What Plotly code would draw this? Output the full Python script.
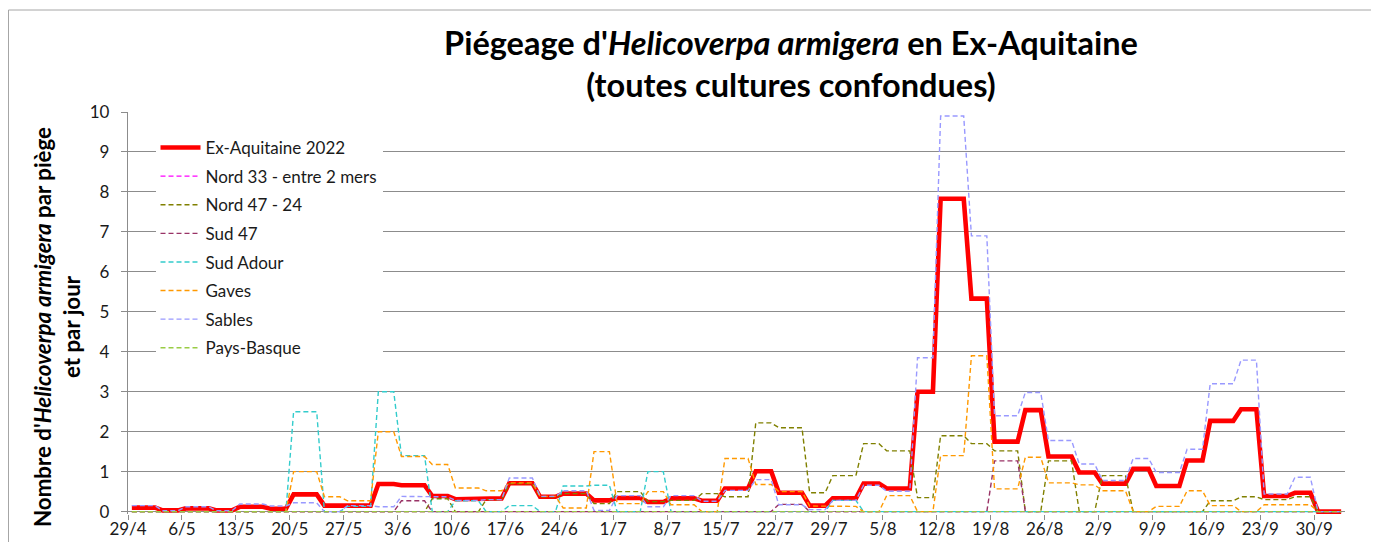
import numpy as np
import pandas as pd
import plotly.graph_objects as go

# Reading periods (start dates of each trap reading interval); last entry = end of data
period_starts = ["2022-04-29", "2022-05-03", "2022-05-06", "2022-05-10", "2022-05-13", "2022-05-17",
                 "2022-05-20", "2022-05-24", "2022-05-27", "2022-05-31", "2022-06-03", "2022-06-07",
                 "2022-06-10", "2022-06-14", "2022-06-17", "2022-06-21", "2022-06-24", "2022-06-28",
                 "2022-07-01", "2022-07-05", "2022-07-08", "2022-07-12", "2022-07-15", "2022-07-19",
                 "2022-07-22", "2022-07-26", "2022-07-29", "2022-08-02", "2022-08-05", "2022-08-09",
                 "2022-08-12", "2022-08-16", "2022-08-19", "2022-08-23", "2022-08-26", "2022-08-30",
                 "2022-09-02", "2022-09-06", "2022-09-09", "2022-09-13", "2022-09-16", "2022-09-20",
                 "2022-09-23", "2022-09-27", "2022-09-30"]
data_end = "2022-10-04"

# Mean catches per trap per day, one value per reading period
ex_aquitaine = [0.10, 0.03, 0.08, 0.03, 0.12, 0.07, 0.43, 0.15, 0.15, 0.69, 0.66, 0.39, 0.31, 0.33, 0.71,
                0.37, 0.45, 0.28, 0.34, 0.24, 0.33, 0.27, 0.58, 1.01, 0.47, 0.15, 0.33, 0.70, 0.58, 3.00,
                7.83, 5.33, 1.75, 2.54, 1.38, 0.98, 0.70, 1.07, 0.64, 1.28, 2.27, 2.56, 0.39, 0.47, 0.00]
nord33 = [0.0] * 45
nord47_24 = [0.00, 0.00, 0.00, 0.00, 0.00, 0.00, 0.00, 0.00, 0.00, 0.00, 0.00, 0.32, 0.00, 0.30, 0.70,
             0.37, 0.45, 0.20, 0.50, 0.25, 0.28, 0.45, 0.37, 2.22, 2.10, 0.47, 0.90, 1.70, 1.52, 0.35,
             1.90, 1.70, 1.52, 0.00, 1.27, 0.00, 0.90, 0.00, 0.00, 0.00, 0.27, 0.37, 0.30, 0.37, 0.00]
sud47 = [0.00, 0.00, 0.00, 0.00, 0.00, 0.00, 0.00, 0.00, 0.00, 0.00, 0.27, 0.00, 0.00, 0.00, 0.00,
         0.00, 0.00, 0.00, 0.00, 0.00, 0.00, 0.00, 0.00, 0.00, 0.18, 0.00, 0.00, 0.00, 0.00, 0.00,
         0.00, 0.00, 1.27, 0.00, 0.00, 0.00, 0.00, 0.00, 0.00, 0.00, 0.00, 0.00, 0.00, 0.00, 0.00]
sud_adour = [0.00, 0.00, 0.00, 0.00, 0.00, 0.00, 2.50, 0.00, 0.13, 3.00, 1.40, 0.00, 0.27, 0.00, 0.15,
             0.00, 0.64, 0.66, 0.00, 1.00, 0.00, 0.00, 0.00, 0.00, 0.00, 0.00, 0.28, 0.00, 0.00, 0.00,
             0.00, 0.00, 0.00, 0.00, 0.00, 0.00, 0.00, 0.00, 0.00, 0.00, 0.00, 0.00, 0.00, 0.00, 0.00]
gaves = [0.00, 0.00, 0.00, 0.00, 0.00, 0.00, 1.00, 0.37, 0.27, 2.00, 1.38, 1.18, 0.59, 0.52, 0.72,
         0.38, 0.09, 1.50, 0.20, 0.50, 0.17, 0.00, 1.33, 0.68, 0.50, 0.14, 0.13, 0.00, 0.40, 0.00,
         1.40, 3.90, 0.57, 1.36, 0.72, 0.67, 0.52, 0.00, 0.13, 0.52, 0.15, 0.00, 0.17, 0.17, 0.00]
sables = [0.15, 0.02, 0.12, 0.02, 0.19, 0.14, 0.22, 0.00, 0.15, 0.12, 0.38, 0.37, 0.28, 0.30, 0.84,
          0.38, 0.52, 0.03, 0.40, 0.12, 0.40, 0.26, 0.53, 0.80, 0.17, 0.05, 0.28, 0.66, 0.51, 3.85,
          9.90, 6.90, 2.40, 2.98, 1.78, 1.19, 0.78, 1.33, 0.98, 1.56, 3.20, 3.79, 0.44, 0.86, 0.00]
pays_basque = [0.0] * 45

series_names = ["Ex-Aquitaine 2022", "Nord 33 - entre 2 mers", "Nord 47 - 24", "Sud 47",
                "Sud Adour", "Gaves", "Sables", "Pays-Basque"]
series_values = [ex_aquitaine, nord33, nord47_24, sud47, sud_adour, gaves, sables, pays_basque]
series_colors = ["#FF0000", "#FF00FF", "#808000", "#993366", "#33CCCC", "#FF9900", "#9999FF", "#99CC44"]

# daily axis: each day's value is the reading of its period; points sit mid-day
bounds = pd.to_datetime(period_starts + [data_end])
lengths = np.diff(bounds.values).astype("timedelta64[D]").astype(int)
days = pd.date_range(period_starts[0] + " 12:00", periods=int(lengths.sum()), freq="D")

fig = go.Figure()
for i, (name, vals, col) in enumerate(zip(series_names, series_values, series_colors)):
    y = np.repeat(np.array(vals, dtype=float), lengths)
    if i == 0:
        line = dict(color=col, width=4.6)
    else:
        line = dict(color=col, width=1.4, dash="5px,3px")
    fig.add_trace(go.Scatter(x=days, y=y, mode="lines", name=name, line=line,
                             legendgroup=f"g{i}", hoverinfo="x+y+name"))

# figure geometry (page is offset by an 8px body margin)
W, H = 1371, 534
L, R, T, B = 120, 34, 104, 28
PW, PH = W - L - R, H - T - B


def px(page_x):
    return (page_x - 8 - L) / PW


def py(page_y):
    return (H - B - (page_y - 8)) / PH


grid = "#8C8C8C"
fig.update_layout(
    width=W, height=H,
    margin=dict(l=L, r=R, t=T, b=B, autoexpand=False),
    paper_bgcolor="white", plot_bgcolor="white",
    font=dict(family="Lato, 'Open Sans', sans-serif", color="#1a1a1a"),
    title=dict(
        text="<b>Piégeage d'<i>Helicoverpa armigera</i> en Ex-Aquitaine<br>(toutes cultures confondues)</b>",
        x=783 / W, xanchor="center", xref="container",
        y=1 - 47 / H, yanchor="top", yref="container",
        font=dict(size=32.5, color="#000000"),
    ),
    xaxis=dict(
        type="date", automargin=False,
        range=["2022-04-29", data_end],
        tick0="2022-04-29", dtick=7 * 86400000,
        tickformat="%-d/%-m",
        ticks="outside", ticklen=5, tickcolor=grid, tickwidth=1.2,
        ticklabelstandoff=-5,
        showgrid=False, showline=False, zeroline=False,
        tickfont=dict(size=17, color="#1a1a1a"),
    ),
    yaxis=dict(
        automargin=False,
        range=[-0.06, 10.0],
        tick0=0, dtick=1,
        showgrid=True, gridcolor=grid, gridwidth=1.3,
        zeroline=True, zerolinecolor=grid, zerolinewidth=1.3,
        showline=True, linecolor=grid, linewidth=1.3,
        ticks="outside", ticklen=6, tickcolor=grid, tickwidth=1.2,
        ticklabelstandoff=8,
        tickfont=dict(size=17, color="#1a1a1a"),
    ),
    legend=dict(
        x=px(155.5), y=py(130), xanchor="left", yanchor="top",
        bgcolor="white", borderwidth=0,
        font=dict(size=17, color="#1a1a1a"),
        tracegroupgap=3.5, itemwidth=40,
    ),
    showlegend=True,
)

fig.add_annotation(
    text="<b>Nombre d'<i>Helicoverpa armigera</i> par piège<br>et par jour</b>",
    xref="paper", yref="paper", x=px(57), y=py(327),
    xanchor="center", yanchor="middle", textangle=-90, showarrow=False,
    font=dict(size=22.3, color="#000000"),
)

# chart-area border (left and top)
fig.add_shape(type="line", xref="paper", yref="paper",
              x0=px(8.5), x1=px(8.5), y0=py(10), y1=py(560),
              line=dict(color="#A6A6A6", width=1))
fig.add_shape(type="line", xref="paper", yref="paper",
              x0=px(8.5), x1=px(1400), y0=py(10), y1=py(10),
              line=dict(color="#A6A6A6", width=1))

fig.write_html("out.html")
